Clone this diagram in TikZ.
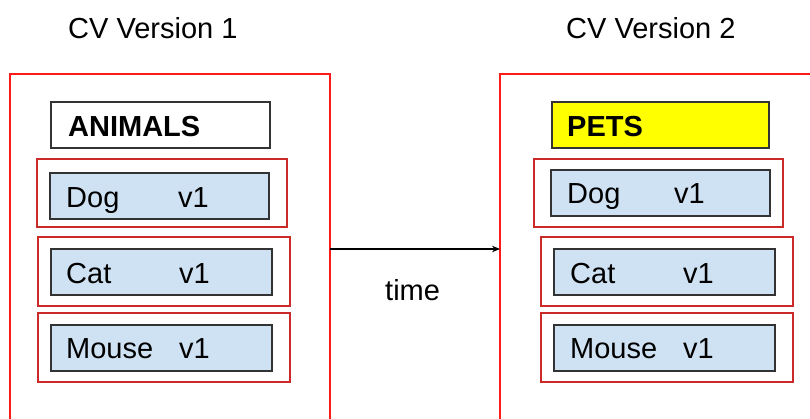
\documentclass[tikz,border=0pt]{standalone}
\usepackage{fontspec}
\setmainfont{Liberation Sans}
\usetikzlibrary{arrows.meta}
\definecolor{frame}{HTML}{FF1A1A}
\definecolor{slot}{HTML}{CC2929}
\definecolor{itemfill}{HTML}{CFE2F3}
\definecolor{itemline}{HTML}{333333}
\definecolor{hilite}{HTML}{FFFF00}
\tikzset{
  txt/.style={inner sep=0pt, anchor=base west, font=\fontsize{29}{35}\selectfont},
  bold/.style={txt, font=\fontsize{29}{35}\selectfont\bfseries},
  box/.style={anchor=north west, inner sep=0pt, outer sep=0pt},
  bigbox/.style={box, draw=frame, line width=2.2pt},
  slotbox/.style={box, draw=slot, line width=1.2pt},
  itembox/.style={box, draw=itemline, fill=itemfill, line width=1.4pt},
  headbox/.style={box, draw=itemline, line width=1.4pt},
}
% place a box by its top-left corner and size
\newcommand{\rbox}[6]{\node[#1, minimum width=#4pt, minimum height=#5pt] (#2) at (#3) {#6};}
\begin{document}
\begin{tikzpicture}[x=1pt, y=-1pt]
\useasboundingbox (0,0) rectangle (810,418);
\clip (0,0) rectangle (810,418);
\fill[white] (0,0) rectangle (810,418);

% version titles
\node[txt] (t1) at (68,38) {CV Version 1};
\node[txt] (t2) at (566,38) {CV Version 2};

% outer frames, open at the bottom of the page
\rbox{bigbox}{cv1}{10,74}{320}{380}{}
\rbox{bigbox}{cv2}{500,74}{340}{380}{}

% version 1 contents
\rbox{headbox}{h1}{51,102}{219}{46}{}
\node[bold] (h1t) at (68,136) {ANIMALS};
\rbox{slotbox}{s11}{37,159}{250}{68}{}
\rbox{itembox}{i11}{50,173}{219}{46}{}
\node[txt] (n11) at (66,207) {Dog};
\node[txt] (v11) at (178,207) {v1};
\rbox{slotbox}{s12}{38,237}{252}{69}{}
\rbox{itembox}{i12}{51,249}{221}{46}{}
\node[txt] (n12) at (66,283) {Cat};
\node[txt] (v12) at (179,283) {v1};
\rbox{slotbox}{s13}{38,313}{252}{69}{}
\rbox{itembox}{i13}{51,325}{221}{46}{}
\node[txt] (n13) at (66,358) {Mouse};
\node[txt] (v13) at (179,358) {v1};

% version 2 contents
\rbox{headbox, fill=hilite}{h2}{552,102}{217}{46}{}
\node[bold] (h2t) at (567,136) {PETS};
\rbox{slotbox}{s21}{534,159}{249}{68}{}
\rbox{itembox}{i21}{551,170}{219}{46}{}
\node[txt] (n21) at (567,203) {Dog};
\node[txt] (v21) at (674,203) {v1};
\rbox{slotbox}{s22}{541,237}{252}{69}{}
\rbox{itembox}{i22}{554,249}{221}{46}{}
\node[txt] (n22) at (570,283) {Cat};
\node[txt] (v22) at (683,283) {v1};
\rbox{slotbox}{s23}{541,313}{252}{69}{}
\rbox{itembox}{i23}{554,325}{221}{46}{}
\node[txt] (n23) at (570,358) {Mouse};
\node[txt] (v23) at (683,358) {v1};

% time arrow between the versions
\coordinate (ta) at (cv1.north east |- 0,249);
\draw[-{Stealth[length=8pt,width=6.5pt]}, line width=1.1pt] (ta) -- (cv2.north west |- ta);
\node[txt] (time) at (385,300) {time};
\end{tikzpicture}
\end{document}
